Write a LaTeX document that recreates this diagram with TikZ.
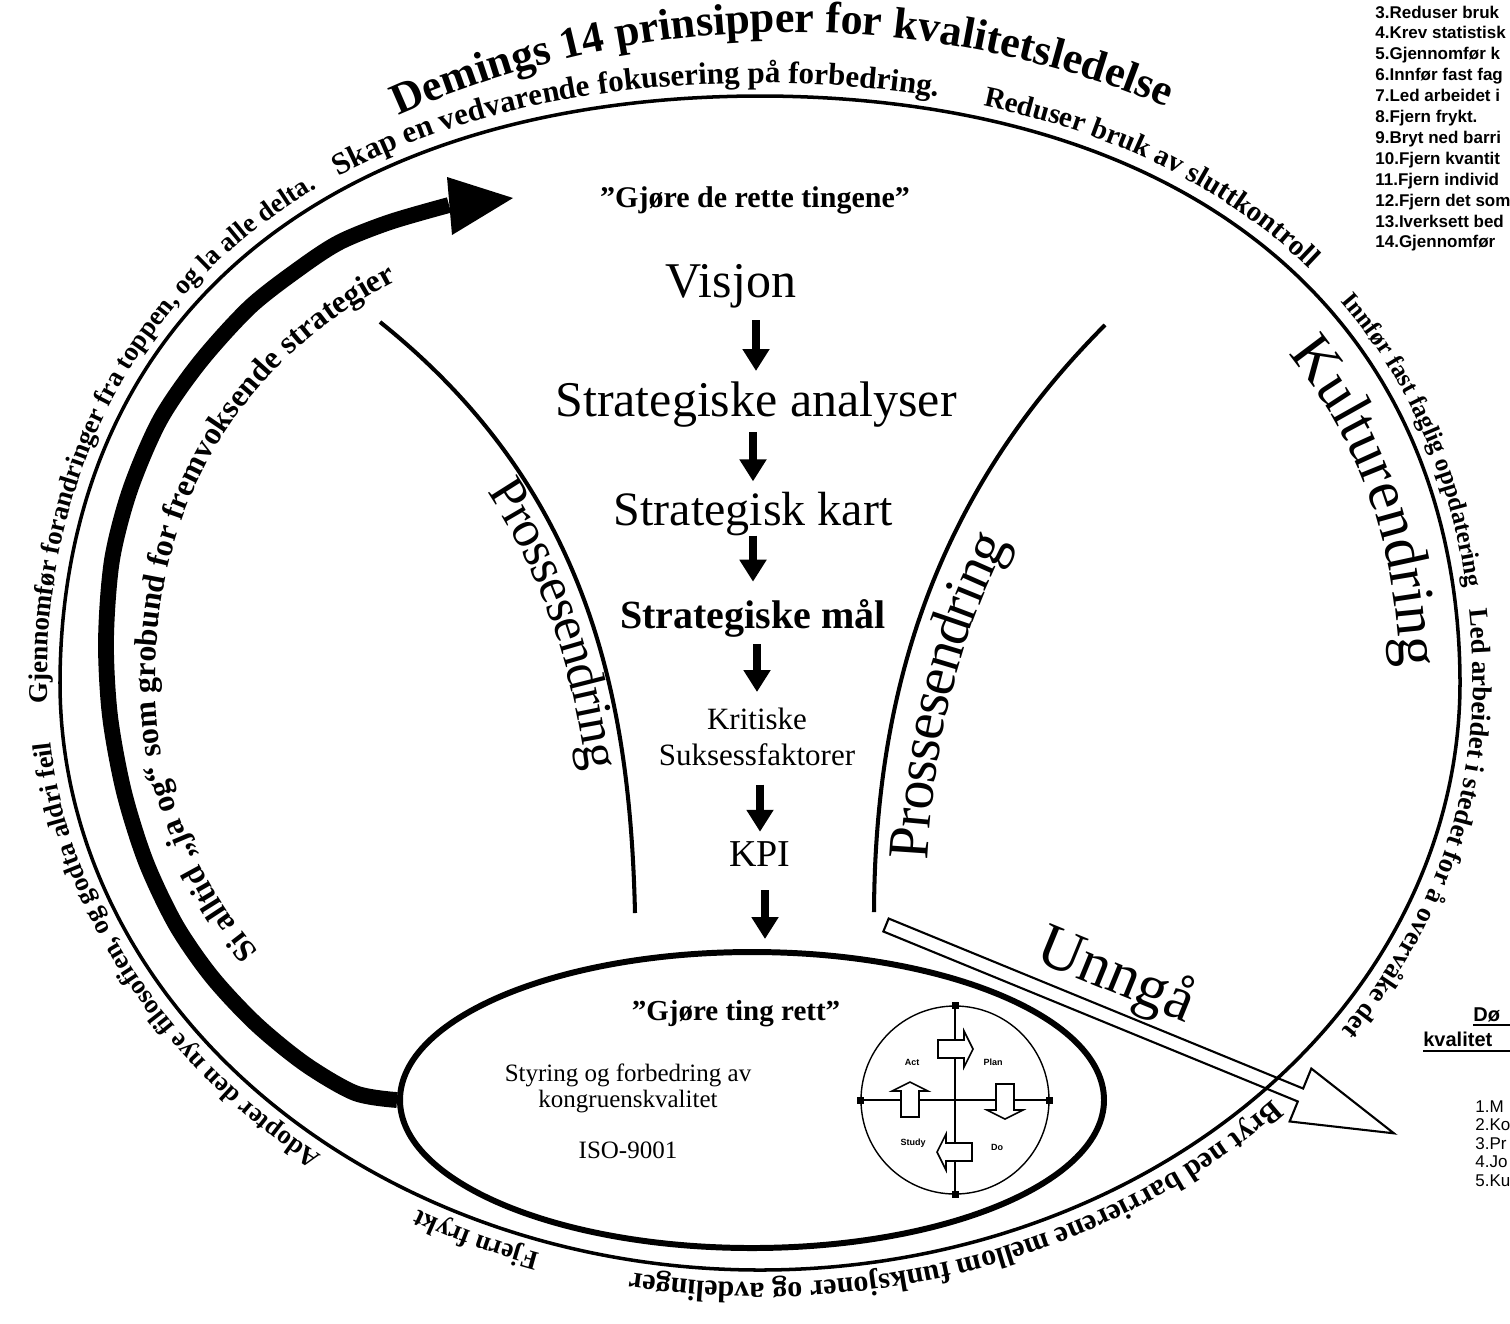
\documentclass[tikz,border=0pt]{standalone}
\usepackage{fontspec}
\setmainfont{Liberation Serif}
\newfontfamily\listfont{Liberation Sans}
\usetikzlibrary{arrows.meta, decorations.text, shapes.geometric}
\newlength{\pxu}
\setlength{\pxu}{0.02cm}
\newcommand{\fpx}[2]{\fontsize{#1\pxu}{#2\pxu}\selectfont}
\tikzset{
  rimline/.style={line width=2pt},
  bigtext/.style={decorate, decoration={text along path}},
  procline/.style={line width=2.3pt},
  flowarrow/.style={line width=4.5pt, -{Triangle[length=12.5pt, width=14.7pt]}},
  flowtext/.style={inner sep=0pt, anchor=base},
  listitem/.style={inner sep=0pt, anchor=base west, font=\listfont\bfseries\fpx{17}{20}},
  pdarrow/.pic={\draw[line width=0.9pt, fill=white] (-17,-9) -- (9,-9) -- (9,-18) -- (18,0) -- (9,18) -- (9,9) -- (-17,9) -- cycle;},
}
\begin{document}
\begin{tikzpicture}[x=0.02cm, y=-0.02cm,
  declare function={
    rimf(\t)=1+0.035*(sin(\t)<0)*sin(2*\t)^2;
    rimx(\t)=cos(\t)*rimf(\t);
    rimy(\t)=sin(\t)*rimf(\t);
  }]
\useasboundingbox (0,0) rectangle (1510,1323);
\fill[white] (0,0) rectangle (1510,1323);
\clip (0,0) rectangle (1510,1323);

% ---- outer ring with the 14 principles ----
\draw[rimline] plot[smooth cycle, domain=0:358, samples=180, variable=\t] ({760+700*rimx(\t)},{683+587*rimy(\t)});
\path[bigtext, decoration={text={|\bfseries\fpx{44}{50}|Demings 14 prinsipper for kvalitetsledelse}}]
  plot[domain=246:316, samples=71, variable=\t] ({792+968*cos(\t)},{1000+968*sin(\t)});
% texts just outside the ring line (radii + 13)
\path[bigtext, decoration={text={|\bfseries\fpx{27}{30}|Gjennomfør forandringer fra toppen, og la alle delta.}}]
  plot[domain=178:258, samples=81, variable=\t] ({760+713*rimx(\t)},{683+600*rimy(\t)});
\path[bigtext, decoration={text={|\bfseries\fpx{31}{34}|Skap en vedvarende fokusering på forbedring.}}]
  plot[domain=235:315, samples=81, variable=\t] ({760+713*rimx(\t)},{683+600*rimy(\t)});
\path[bigtext, decoration={text={|\bfseries\fpx{29}{32}|Reduser bruk av sluttkontroll}}]
  plot[domain=288:368, samples=81, variable=\t] ({760+713*rimx(\t)},{683+600*rimy(\t)});
\path[bigtext, decoration={text={|\bfseries\fpx{25}{28}|Innfør fast faglig oppdatering}}]
  plot[domain=322:402, samples=81, variable=\t] ({760+713*rimx(\t)},{683+600*rimy(\t)});
\path[bigtext, decoration={text={|\bfseries\fpx{27}{30}|Led arbeidet i stedet for å overvåke det}}]
  plot[domain=353:433, samples=81, variable=\t] ({760+713*rimx(\t)},{683+600*rimy(\t)});
\path[bigtext, decoration={text={|\bfseries\fpx{30}{33}|Bryt ned barrierene mellom funksjoner og avdelinger}}]
  plot[domain=44:124, samples=81, variable=\t] ({760+713*rimx(\t)},{683+600*rimy(\t)});
\path[bigtext, decoration={text={|\bfseries\fpx{27}{30}|Fjern frykt}}]
  plot[domain=108:140, samples=33, variable=\t] ({760+713*rimx(\t)},{683+600*rimy(\t)});
\path[bigtext, decoration={text={|\bfseries\fpx{26.5}{30}|Adopter den nye filosofien, og godta aldri feil}}]
  plot[domain=128:208, samples=81, variable=\t] ({760+713*rimx(\t)},{683+600*rimy(\t)});
\path[bigtext, decoration={text={|\fpx{60}{60}|Kulturendring}}]
  plot[domain=323:403, samples=81, variable=\t] ({760+640*rimx(\t)},{683+530*rimy(\t)});

% ---- inner ring: doing things right ----
\node[ellipse, draw, line width=3.4pt, minimum width=704\pxu, minimum height=296\pxu, inner sep=0pt] (ring) at (752,1100) {};
\node[flowtext, font=\fpx{29}{34}\bfseries] (ting) at (736,1020) {”Gjøre ting rett”};
\node[align=center, font=\fpx{25}{26}, inner sep=0pt] (styring) at (628,1088) {Styring og forbedring av\\kongruenskvalitet};
\node[font=\fpx{25}{28}, inner sep=0pt] (iso) at (628,1150) {ISO-9001};

% PDSA wheel
\node[circle, draw, line width=0.8pt, minimum size=188\pxu, inner sep=0pt] (pd) at (955,1100) {};
\draw[line width=0.9pt] (pd.north) -- (pd.south);
\draw[line width=0.9pt] (pd.west) -- (pd.east);
\foreach \a in {north,south,west,east}
  \fill ([shift={(-3.5,-3.5)}]pd.\a) rectangle ++(7,7);
\pic at (955,1049) {pdarrow};
\pic[rotate=90] at (910,1100) {pdarrow};
\pic[rotate=-90] at (1005,1101) {pdarrow};
\pic[rotate=180] at (955,1152) {pdarrow};
\node[font=\listfont\bfseries\fpx{9}{9}] (pdact) at (912,1062) {Act};
\node[font=\listfont\bfseries\fpx{9}{9}] (pdplan) at (993,1062) {Plan};
\node[font=\listfont\bfseries\fpx{9}{9}] (pdstudy) at (913,1143) {Study};
\node[font=\listfont\bfseries\fpx{9}{9}] (pddo) at (997,1147) {Do};

% ---- thick arrow and emergent strategies ----
\draw[line width=9pt] plot[smooth] coordinates {(ring.west) (355,1093) (305,1064) (256,1024) (212,977) (176,925) (146,862) (124,792) (110,716) (106,640) (112,560) (130,490) (160,420) (200,362) (250,307) (300,268) (340,242) (390,222) (449,205)};
\fill (447,177) -- (513,198) -- (452,235) -- cycle;
\path[bigtext, decoration={text={|\bfseries\fpx{32}{36}|Si alltid „ja og“ som grobund for fremvoksende strategier}}]
  plot[domain=146:236, samples=91, variable=\t] ({760+605*rimx(\t)},{683+480*rimy(\t)});

% ---- strategy chain ----
\node[flowtext, font=\fpx{30}{34}\bfseries] (rette) at (755,207) {”Gjøre de rette tingene”};
\node[flowtext, font=\fpx{50}{56}] (visjon) at (731,297) {Visjon};
\node[flowtext, font=\fpx{50}{56}] (analyser) at (756,416) {Strategiske analyser};
\node[flowtext, font=\fpx{48}{54}] (kart) at (753,525) {Strategisk kart};
\node[flowtext, font=\fpx{40}{46}\bfseries] (maal) at (753,628) {Strategiske mål};
\node[inner sep=0pt, anchor=north, align=center, font=\fpx{31}{36}] (ksf) at (757,708) {Kritiske\\Suksessfaktorer};
\node[flowtext, font=\fpx{38}{44}] (kpi) at (760,866) {KPI};
\foreach \a/\b/\sa/\sb in {visjon/analyser/12/10, analyser/kart/5/10, kart/maal/0/17, maal/ksf/7/16, ksf/kpi/18/9}
  \draw[flowarrow, shorten <=\sa\pxu, shorten >=\sb\pxu] (\a.south -| \b.north) -- (\b.north);
\draw[flowarrow, shorten <=24\pxu, shorten >=10\pxu] ([xshift=5\pxu]kpi.south) -- ([xshift=5\pxu]kpi.south |- ring.north);

% ---- process change curves ----
\draw[procline] (380,322) .. controls (590,490) and (630,700) .. (635,913);
\draw[procline] (874,912) .. controls (875,700) and (930,500) .. (1105,325);
\path[bigtext, decoration={text={|\fpx{52}{52}|Prossesendring}, raise=-38\pxu, text align={left, left indent=205\pxu}}]
  (380,322) .. controls (590,490) and (630,700) .. (635,913);
\path[bigtext, decoration={text={|\fpx{58}{58}|Prossesendring}, raise=-52\pxu, text align={left, left indent=55\pxu}}]
  (874,912) .. controls (875,700) and (930,500) .. (1105,325);

% ---- avoid arrow ----
\begin{scope}[shift={(886,925)}, rotate=-22.3]
  \draw[line width=1.2pt] (0,-7) -- (448,-7) -- (448,-28.6) -- (549,0) -- (448,28.6) -- (448,7) -- (0,7) -- cycle;
  \node[font=\fpx{62}{62}, rotate=-22.3] (unnga) at (232,-39) {Unngå};
\end{scope}

% ---- cropped lists at the right edge ----
\foreach \txt [count=\i from 0] in {3.Reduser bruk, 4.Krev statistisk, 5.Gjennomfør k, 6.Innfør fast fag, 7.Led arbeidet i, 8.Fjern frykt., 9.Bryt ned barri, 10.Fjern kvantit, 11.Fjern individ, 12.Fjern det som, 13.Iverksett bed, 14.Gjennomfør}
  \node[listitem] (top\i) at (1375,{18+20.9*\i}) {\txt};
\node[inner sep=0pt, anchor=base west, font=\listfont\bfseries\fpx{20}{24}] (dh) at (1473,1021) {Dø};
\node[inner sep=0pt, anchor=base west, font=\listfont\bfseries\fpx{20}{24}] (kh) at (1423,1046) {kvalitet};
\draw[line width=1.3pt] ([yshift=-4\pxu]dh.base west) -- ++(60,0);
\draw[line width=1.3pt] ([yshift=-5\pxu]kh.base west) -- ++(120,0);
\foreach \txt [count=\i from 0] in {1.M, 2.Ko, 3.Pr, 4.Jo, 5.Ku}
  \node[inner sep=0pt, anchor=base west, font=\listfont\fpx{17}{20}] (dl\i) at (1475,{1112+18.6*\i}) {\txt};
\end{tikzpicture}
\end{document}
